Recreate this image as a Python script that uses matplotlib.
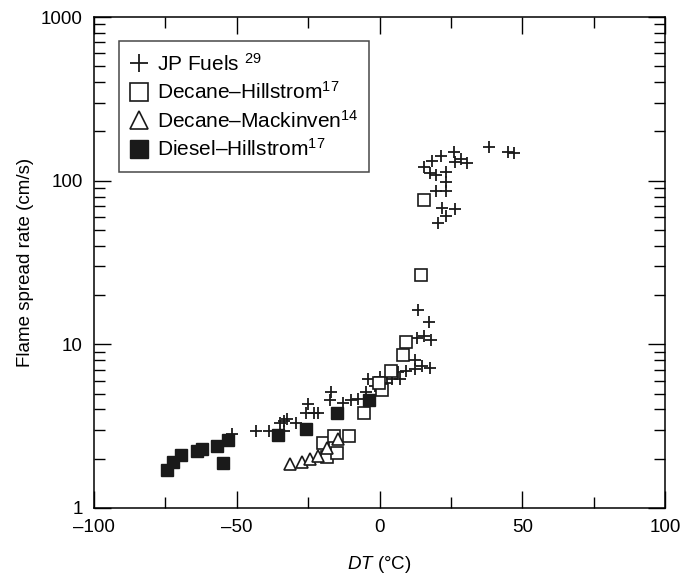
import matplotlib
matplotlib.use('Agg')
import matplotlib.pyplot as plt
from matplotlib.ticker import LogLocator, NullFormatter

plt.rcParams['font.family'] = ['Liberation Sans', 'DejaVu Sans']
plt.rcParams['mathtext.fontset'] = 'custom'
plt.rcParams['mathtext.rm'] = 'Liberation Sans'
plt.rcParams['mathtext.it'] = 'Liberation Sans:italic'

# JP fuels (plus markers)
jp_dt = [-51.8, -43.3, -38.6, -35.0, -33.5, -32.3, -33.5, -29.2, -25.1, -25.7,
         -22.8, -21.4, -16.9, -17.3, -12.9, -10.0, -7.5, -4.9, -3.9, 0.35,
         -1.6, 2.6, 4.3, 7.2, 6.6, 9.3, 12.3, 12.4, 13.0, 13.4,
         17.4, 15.6, 17.9, 14.8, 17.7,
         15.7, 18.3, 21.5, 26.2, 26.4, 28.7, 30.5, 17.7, 19.7, 23.2,
         23.2, 19.8, 23.3, 21.8, 26.5, 23.2, 20.4, 38.2, 45.1, 47.1]
jp_rate = [2.83, 2.95, 2.97, 3.31, 3.40, 3.52, 2.97, 3.31, 4.29, 3.80,
           3.78, 3.79, 5.13, 4.54, 4.38, 4.54, 4.63, 5.11, 6.16, 6.36,
           5.56, 5.80, 6.11, 6.11, 6.80, 6.90, 7.06, 8.02, 10.9, 16.3,
           13.6, 11.2, 10.6, 7.37, 7.14,
           121, 132, 141, 150, 130, 136, 128, 112, 108, 113,
           98.5, 86.4, 86.4, 67.7, 66.9, 60.5, 54.8, 160, 149, 148]

# Decane - Hillstrom (open squares)
dh_dt = [-19.9, -15.9, -10.6, -18.5, -15.0, -5.6, 1.0, -0.2, 4.0, 8.3, 9.4, 14.5, 15.5]
dh_rate = [2.51, 2.75, 2.75, 2.06, 2.18, 3.82, 5.26, 5.78, 6.87, 8.60, 10.4, 26.5, 76.5]

# Decane - Mackinven (open triangles)
dm_dt = [-31.3, -27.0, -24.3, -21.4, -18.4, -14.4]
dm_rate = [1.87, 1.92, 2.00, 2.08, 2.33, 2.65]

# Diesel - Hillstrom (filled squares)
di_dt = [-74.4, -72.3, -69.5, -63.9, -62.3, -56.9, -53.2, -54.8, -35.7, -25.7, -14.9, -3.7]
di_rate = [1.71, 1.92, 2.12, 2.24, 2.29, 2.39, 2.60, 1.89, 2.79, 3.04, 3.82, 4.60]

fig = plt.figure(figsize=(6.93, 5.81), dpi=100)
ax = fig.add_axes([94 / 693, 1 - 508 / 581, 571 / 693, 491 / 581])

ax.plot(jp_dt, jp_rate, ls='none', marker='+', ms=9, mew=1.3, color='#1a1a1a',
        label='JP Fuels $^{29}$')
ax.plot(dh_dt, dh_rate, ls='none', marker='s', ms=8.5, mew=1.2, mfc='white',
        mec='#1a1a1a', label='Decane\u2013Hillstrom$^{17}$')
ax.plot(dm_dt, dm_rate, ls='none', marker='^', ms=9, mew=1.2, mfc='white',
        mec='#1a1a1a', label='Decane\u2013Mackinven$^{14}$')
ax.plot(di_dt, di_rate, ls='none', marker='s', ms=8.5, mew=1.0, mfc='#1a1a1a',
        mec='#1a1a1a', label='Diesel\u2013Hillstrom$^{17}$')

ax.set_yscale('log')
ax.set_xlim(-100, 100)
ax.set_ylim(1, 1000)
ax.set_xticks([-100, -50, 0, 50, 100])
ax.set_xticklabels(['\u2013100', '\u201350', '0', '50', '100'])
ax.set_xticks([-75, -25, 25, 75], minor=True)
ax.set_yticks([1, 10, 100, 1000])
ax.set_yticklabels(['1', '10', '100', '1000'])
ax.yaxis.set_minor_locator(LogLocator(base=10, subs=range(2, 10), numticks=20))
ax.yaxis.set_minor_formatter(NullFormatter())

ax.tick_params(which='both', direction='in', top=True, right=True, labelsize=13.5, width=1.0)
ax.tick_params(which='major', length=12, pad=8)
ax.tick_params(which='minor', length=8)
for sp in ax.spines.values():
    sp.set_linewidth(1.1)

ax.set_ylabel('Flame spread rate (cm/s)', fontsize=13.5, labelpad=5)
ax.set_xlabel('$DT$ (\u00b0C)', fontsize=13.5, labelpad=13)

leg = ax.legend(loc='upper left', bbox_to_anchor=(0.044, 0.951), borderaxespad=0,
                fontsize=15, frameon=True, fancybox=False, edgecolor='#1a1a1a',
                markerscale=1.5, handlelength=0.8, handletextpad=0.45,
                labelspacing=0.32, borderpad=0.55)
leg.get_frame().set_linewidth(1.1)

fig.savefig('out.png', dpi=100)
